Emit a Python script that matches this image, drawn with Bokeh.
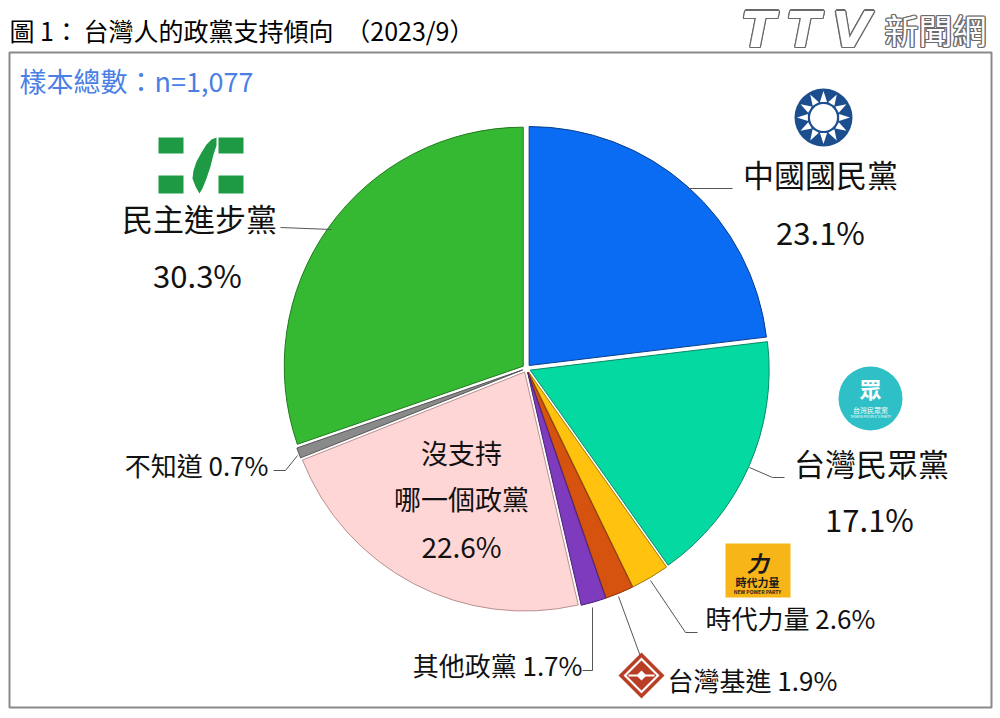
import numpy as np
from bokeh.plotting import figure
from bokeh.models import Range1d, ColumnDataSource
from bokeh.core.properties import value
from bokeh.embed import file_html
from bokeh.resources import INLINE

# ---------------- data ----------------
categories = ["中國國民黨", "台灣民眾黨", "時代力量", "台灣基進", "其他政黨",
              "沒支持哪一個政黨", "不知道", "民主進步黨"]
values = [23.1, 17.1, 2.6, 1.9, 1.7, 22.6, 0.7, 30.3]
colors = ["#0A6BF3", "#05D9A2", "#FFC20E", "#D5520F", "#7E3BBE",
          "#FFD6D6", "#8A8A8A", "#36B932"]
edges = ["#0A3E8A", "#0A8A66", "#A07A00", "#8A3308", "#4A1F75",
         "#B89090", "#555555", "#1F7A1C"]
title_parts = ["圖 1：", "台灣人的政黨支持傾向", "（2023/9）"]
sample_text = "樣本總數：n=1,077"

FONT = "Noto Sans CJK TC"
W, H = 1000, 718


def Y(yi):
    return H - yi


p = figure(width=W, height=H, output_backend="svg", toolbar_location=None,
           x_range=Range1d(0, W), y_range=Range1d(0, H), min_border=0)
p.axis.visible = False
p.grid.visible = False
p.outline_line_color = None
p.background_fill_color = "white"

# frame
p.quad(left=[9], right=[991], top=[Y(52)], bottom=[Y(707)], fill_color=None,
       line_color="#8a8a8a", line_width=2)

# ---------------- pie ----------------
cx, cy, r, explode = 526, Y(368), 239, 4
vals = np.array(values)
frac = vals / vals.sum()
cum = np.concatenate([[0], np.cumsum(frac)])
start = np.pi / 2 - 2 * np.pi * cum[:-1]
end = np.pi / 2 - 2 * np.pi * cum[1:]
mid = (start + end) / 2
src = ColumnDataSource(dict(
    x=cx + explode * np.cos(mid), y=cy + explode * np.sin(mid),
    start=start, end=end, color=colors, edge=edges, cat=categories))
p.wedge(x="x", y="y", radius=r, start_angle="start", end_angle="end",
        direction="clock", fill_color="color", line_color="edge",
        line_width=1, source=src)

# ---------------- text helpers ----------------
def txt(x, y, s, size, color="#111111", align="center", style="normal", font=FONT):
    p.text(x=[x], y=[Y(y)], text=[s], text_font=value(font),
           text_font_size=value(f"{size}px"), text_color=color,
           text_align=align, text_baseline="middle", text_font_style=style)


def pct(v):
    return f"{v:.1f}%"


# title & sample
txt(9, 29, title_parts[0], 25, color="#000000", align="left")
txt(83, 29, title_parts[1], 25, color="#000000", align="left")
txt(474, 29, title_parts[2], 25, color="#000000", align="right")
txt(19, 80, sample_text, 27, color="#4B7FE6", align="left")

# TTV logo (outlined text)
logo = [("T", 758, "DejaVu Sans", "bold italic", 50),
        ("T", 803, "DejaVu Sans", "bold italic", 50),
        ("V", 851, "DejaVu Sans", "bold italic", 50),
        ("新聞網", 935, FONT, "normal", 34)]
offs = [(-1.3, 0), (1.3, 0), (0, -1.3), (0, 1.3), (-1, -1), (1, 1), (-1, 1), (1, -1)]
for col, oo in [("#6a6a6a", offs), ("white", [(0, 0)])]:
    for s, lx, f, st, fs in logo:
        for dx, dy in oo:
            p.text(x=[lx + dx], y=[Y(29) + dy], text=[s], text_font=value(f),
                   text_font_size=value(f"{fs}px"), text_color=col, text_align="center",
                   text_baseline="middle", text_font_style=st)

# ---------------- labels ----------------
BIG = 31
SMALL = 26
txt(820, 173, categories[0], BIG)
txt(820, 231, pct(values[0]), BIG)
txt(871, 462, categories[1], BIG)
txt(869, 518, pct(values[1]), BIG)
txt(705, 617, f"{categories[2]} {pct(values[2])}", SMALL, align="left")
txt(667, 679, f"{categories[3]} {pct(values[3])}", SMALL, align="left")
txt(582, 664, f"{categories[4]} {pct(values[4])}", SMALL, align="right")
txt(461, 452, categories[5][:3], 27)
txt(461, 498, categories[5][3:], 27)
txt(461, 545, pct(values[5]), 28)
txt(268, 464, f"{categories[6]} {pct(values[6])}", SMALL, align="right")
txt(199, 217, categories[7], BIG)
txt(197, 274, pct(values[7]), BIG)

# leader lines
lines = [
    [(687, 188), (732, 188)],
    [(749, 467), (772, 477), (784, 477)],
    [(650, 580), (685, 632), (697, 632)],
    [(618, 596), (640, 656)],
    [(592, 607), (592, 670), (582, 670)],
    [(297, 455), (285, 470), (273, 470)],
    [(280, 227), (331, 229)],
]
for ln in lines:
    p.line([a for a, b in ln], [Y(b) for a, b in ln], line_color="#555555", line_width=1)

# ---------------- logos ----------------
# KMT
kx, ky = 823, 117
p.circle(x=[kx], y=[Y(ky)], radius=29, fill_color="#1C4E8E", line_color=None)
rx, ry = [], []
for k in range(12):
    a = np.pi / 2 + k * np.pi / 6
    w = np.pi / 14
    rx.append([kx + 16 * np.cos(a - w), kx + 26.5 * np.cos(a), kx + 16 * np.cos(a + w)])
    ry.append([Y(ky) + 16 * np.sin(a - w), Y(ky) + 26.5 * np.sin(a), Y(ky) + 16 * np.sin(a + w)])
p.patches(rx, ry, fill_color="white", line_color=None)
p.circle(x=[kx], y=[Y(ky)], radius=13.5, fill_color="white", line_color=None)

# DPP
dg = "#1E9A45"
p.quad(left=[158, 218, 158, 218], right=[183, 243, 183, 243],
       top=[Y(137), Y(137), Y(175), Y(175)], bottom=[Y(153), Y(153), Y(193), Y(193)],
       fill_color=dg, line_color=None)
isl = [(216, 137), (211, 139), (206, 144), (201, 152), (196, 161), (193, 170),
       (192, 178), (195, 186), (199, 193), (202, 188), (206, 178), (210, 166),
       (213, 154), (216, 145)]
p.patch([a for a, b in isl], [Y(b) for a, b in isl], fill_color=dg, line_color=None)

# TPP
tx, ty = 870, 398
p.circle(x=[tx], y=[Y(ty)], radius=32, fill_color="#2FBFC6", line_color=None)
txt(tx, 387, "眾", 22, color="white", style="bold")
txt(tx, 409, "台灣民眾黨", 7, color="white")
txt(tx, 416, "TAIWAN PEOPLE'S PARTY", 3.5, color="white")

# NPP
p.quad(left=[725], right=[790], top=[Y(543)], bottom=[Y(597)],
       fill_color="#F8B517", line_color=None)
txt(757, 561, "力", 22, color="#1a1a1a", style="bold italic")
txt(757, 581, "時代力量", 11, color="#1a1a1a", style="bold")
txt(757, 591, "NEW POWER PARTY", 5, color="#1a1a1a", style="bold")

# TSP diamond
sx, sy = 641, 675


def diamond(h):
    return ([sx, sx + h, sx, sx - h], [Y(sy) + h, Y(sy), Y(sy) - h, Y(sy)])


for h, c in [(23, "#B83F25"), (18, "white"), (15, "#B83F25"), (5, "white")]:
    xs, ys = diamond(h)
    p.patch(xs, ys, fill_color=c, line_color=None)
p.quad(left=[sx - 13], right=[sx + 13], top=[Y(sy) + 1], bottom=[Y(sy) - 1],
       fill_color="white", line_color=None)

open("out.html", "w").write(file_html(p, INLINE))
